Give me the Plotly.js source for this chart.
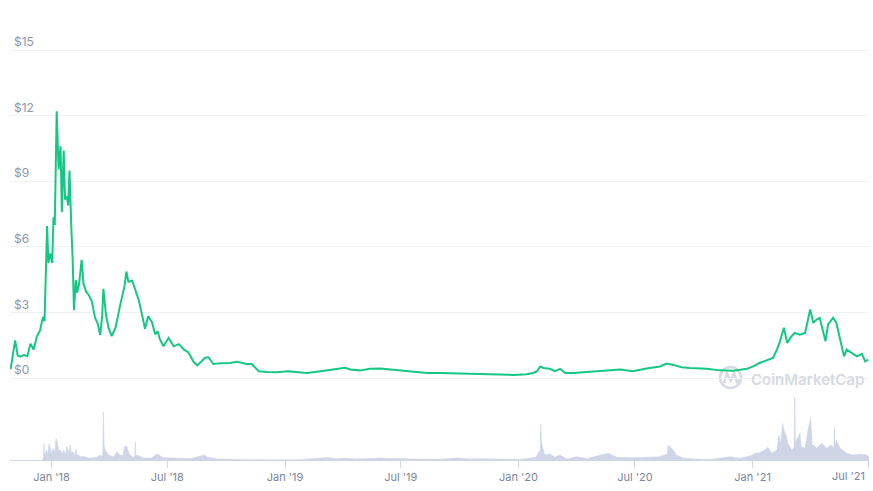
<!DOCTYPE html>
<html>
<head>
<meta charset="utf-8">
<script src="https://cdn.plot.ly/plotly-3.0.1.min.js"></script>
<style>html,body{margin:0;padding:0;background:#fff;}#chart{width:873px;height:491px;}</style>
</head>
<body>
<div id="chart"></div>
<script>
// ---- Price (USD) ----
const priceDates = [
'2017-10-29','2017-11-05','2017-11-09','2017-11-13','2017-11-19','2017-11-24','2017-11-29','2017-12-04','2017-12-09','2017-12-14',
'2017-12-17','2017-12-19','2017-12-21','2017-12-25','2017-12-27','2017-12-30','2018-01-02','2018-01-04','2018-01-06','2018-01-09',
'2018-01-12','2018-01-15','2018-01-17','2018-01-20','2018-01-22','2018-01-25','2018-01-27','2018-01-29','2018-02-01','2018-02-03',
'2018-02-05','2018-02-08','2018-02-10','2018-02-13','2018-02-17','2018-02-20','2018-02-24','2018-02-28','2018-03-05','2018-03-10',
'2018-03-14','2018-03-18','2018-03-21','2018-03-23','2018-03-27','2018-03-31','2018-04-05','2018-04-11','2018-04-18','2018-04-25',
'2018-04-28','2018-05-01','2018-05-07','2018-05-12','2018-05-17','2018-05-23','2018-05-27','2018-06-01','2018-06-07','2018-06-12',
'2018-06-16','2018-06-19','2018-06-25','2018-07-03','2018-07-11','2018-07-19','2018-07-27','2018-08-03','2018-08-11','2018-08-17',
'2018-08-24','2018-08-29','2018-09-03','2018-09-11','2018-09-22','2018-10-07','2018-10-18','2018-11-02','2018-11-10','2018-11-16',
'2018-11-21','2018-12-04','2018-12-19','2019-01-06','2019-01-24','2019-02-04','2019-02-20','2019-03-08','2019-03-23','2019-04-05',
'2019-04-13','2019-04-28','2019-05-14','2019-05-30','2019-06-15','2019-06-30','2019-07-16','2019-08-11','2019-08-31','2019-09-21',
'2019-10-12','2019-11-07','2019-12-03','2019-12-24','2020-01-14','2020-01-24','2020-01-30','2020-02-04','2020-02-09','2020-02-19',
'2020-02-27','2020-03-06','2020-03-14','2020-03-27','2020-04-17','2020-05-13','2020-06-08','2020-06-28','2020-07-19','2020-08-09',
'2020-08-20','2020-08-30','2020-09-12','2020-09-25','2020-10-21','2020-11-11','2020-12-02','2020-12-23','2021-01-02','2021-01-12',
'2021-01-23','2021-02-02','2021-02-08','2021-02-12','2021-02-19','2021-02-24','2021-03-03','2021-03-08','2021-03-16','2021-03-24',
'2021-03-27','2021-04-01','2021-04-06','2021-04-11','2021-04-16','2021-04-25','2021-04-29','2021-05-07','2021-05-12','2021-05-20',
'2021-05-24','2021-05-28','2021-06-05','2021-06-13','2021-06-21','2021-06-26','2021-07-01'
];
const priceUSD = [
0.41,1.72,1.03,0.98,1.05,1.00,1.57,1.30,1.90,2.18,
2.60,2.80,2.60,6.95,5.26,5.70,5.26,7.35,7.00,12.2,
9.54,10.6,7.58,10.4,8.16,8.30,7.88,9.49,6.78,5.40,
3.10,4.48,3.90,4.30,5.40,4.30,3.95,3.80,3.50,2.75,
2.50,1.97,2.80,4.08,2.90,2.30,1.92,2.30,3.30,4.20,
4.87,4.40,4.45,4.04,3.60,2.82,2.25,2.82,2.55,2.00,
2.14,1.80,1.45,1.83,1.45,1.55,1.30,1.17,0.74,0.58,
0.76,0.93,0.95,0.64,0.68,0.69,0.74,0.64,0.64,0.45,
0.31,0.28,0.26,0.31,0.26,0.23,0.29,0.35,0.39,0.47,
0.39,0.35,0.42,0.44,0.39,0.34,0.31,0.23,0.23,0.21,
0.19,0.18,0.17,0.14,0.17,0.23,0.31,0.53,0.46,0.42,
0.31,0.42,0.23,0.23,0.28,0.35,0.39,0.31,0.44,0.53,
0.66,0.60,0.49,0.46,0.42,0.35,0.33,0.42,0.53,0.69,
0.81,0.92,1.30,1.61,2.30,1.61,1.91,2.06,1.98,2.06,
2.45,3.14,2.52,2.67,2.75,1.68,2.45,2.76,2.52,1.53,
0.99,1.30,1.15,0.99,1.10,0.76,0.84
];

// ---- Volume (million USD) ----
const volumeDates = [
'2017-12-18','2017-12-19','2017-12-20','2017-12-21','2017-12-24','2017-12-26','2017-12-28','2017-12-30','2018-01-01','2018-01-03',
'2018-01-06','2018-01-08','2018-01-10','2018-01-12','2018-01-15','2018-01-18','2018-01-20','2018-01-23','2018-01-25','2018-01-28',
'2018-01-30','2018-02-01','2018-02-03','2018-02-06','2018-02-08','2018-02-10','2018-02-12','2018-02-16','2018-02-20','2018-03-03',
'2018-03-13','2018-03-18','2018-03-22','2018-03-23','2018-03-24','2018-03-26','2018-03-31','2018-04-08','2018-04-13','2018-04-18',
'2018-04-23','2018-04-25','2018-04-29','2018-05-02','2018-05-07','2018-05-11','2018-05-12','2018-05-13','2018-05-15','2018-05-25',
'2018-06-06','2018-06-15','2018-06-25','2018-07-21','2018-08-06','2018-08-27','2018-09-03','2018-09-17','2018-10-07','2018-10-18',
'2018-11-23','2019-01-24','2019-02-27','2019-03-09','2019-03-20','2019-04-05','2019-04-24','2019-05-14','2019-05-30','2019-06-15',
'2019-06-30','2019-07-16','2019-08-08','2019-08-31','2019-09-27','2019-10-17','2019-11-02','2019-12-03','2020-01-03','2020-01-28',
'2020-02-01','2020-02-04','2020-02-05','2020-02-06','2020-02-08','2020-02-11','2020-02-19','2020-02-27','2020-03-06','2020-03-16',
'2020-04-01','2020-04-17','2020-05-07','2020-05-20','2020-06-03','2020-06-28','2020-07-24','2020-08-09','2020-08-21','2020-08-22',
'2020-08-27','2020-08-30','2020-09-04','2020-09-15','2020-10-01','2020-10-26','2020-11-27','2020-12-12','2020-12-28','2021-01-05',
'2021-01-12','2021-01-20','2021-01-25','2021-01-31','2021-02-08','2021-02-11','2021-02-14','2021-02-17','2021-02-19','2021-02-23',
'2021-02-25','2021-03-03','2021-03-07','2021-03-08','2021-03-09','2021-03-11','2021-03-16','2021-03-18','2021-03-24','2021-03-29',
'2021-04-02','2021-04-04','2021-04-06','2021-04-11','2021-04-19','2021-04-27','2021-05-03','2021-05-08','2021-05-09','2021-05-10',
'2021-05-12','2021-05-18','2021-05-28','2021-06-07','2021-06-18','2021-06-28','2021-07-02'
];
const volumeM = [
0,40,330,80,200,100,330,200,120,230,
150,430,360,180,200,120,200,110,270,120,
310,120,170,90,210,90,100,60,70,35,
55,100,60,970,300,200,100,65,165,100,
90,280,265,130,65,50,365,80,100,35,
40,120,45,35,25,100,55,20,14,12,
6,6,30,50,24,36,20,30,40,24,
30,20,16,16,40,20,24,12,10,55,
130,200,720,335,235,100,120,55,100,20,
65,25,95,135,55,45,55,65,120,300,
235,200,100,35,20,10,65,35,80,135,
145,200,255,135,200,500,335,735,600,465,
335,200,250,1265,350,400,535,265,235,635,
835,300,300,235,335,235,300,250,655,300,
400,235,135,100,115,100,65
];

// ---- Axis labels ----
const xTickDates = ['2018-01-01','2018-07-01','2019-01-01','2019-07-01','2020-01-01','2020-07-01','2021-01-01','2021-07-01'];
const xTickLabels = ["Jan '18","Jul '18","Jan '19","Jul '19","Jan '20","Jul '20","Jan '21","Jul '21"];
const yTickValues = [0,3,6,9,12,15];
const yTickLabels = ['$0','$3','$6','$9','$12','$15'];
const watermarkText = 'CoinMarketCap';

const W = 873, H = 491;
const px = x => x / W;
const py = y => 1 - y / H;
const fontFam = 'Inter, "Open Sans", sans-serif';
const lastIdx = xTickLabels.length - 1;
// the last tick label sits flush to the right edge (right-aligned at its tick)
const axisTickText = xTickLabels.map((t, i) => i === lastIdx ? '' : t);

const traces = [
  {
    type: 'scatter', mode: 'lines', x: volumeDates, y: volumeM,
    xaxis: 'x', yaxis: 'y', fill: 'tozeroy',
    fillcolor: '#cfd5e7', line: {color: '#cfd5e7', width: 0.6},
    hoverinfo: 'skip'
  },
  {
    type: 'scatter', mode: 'lines', x: priceDates, y: priceUSD,
    xaxis: 'x', yaxis: 'y2',
    line: {color: '#16c784', width: 2}
  }
];

// price axis: $0 gridline at 378px, $15 gridline at 50px (21.87 px per $)
const layout = {
  width: W, height: H,
  margin: {l: 0, r: 0, t: 0, b: 0},
  paper_bgcolor: '#ffffff', plot_bgcolor: 'rgba(0,0,0,0)',
  showlegend: false,
  xaxis: {
    type: 'date', domain: [px(10), px(869)], anchor: 'y',
    range: ['2017-10-28', '2021-07-02'],
    tickmode: 'array', tickvals: xTickDates, ticktext: axisTickText,
    ticks: 'outside', ticklen: 7, tickcolor: '#cfd6e4', tickwidth: 1,
    showline: true, linecolor: '#cfd6e4', linewidth: 1,
    showgrid: false, zeroline: false,
    tickfont: {family: fontFam, size: 11, color: '#7d8699'}
  },
  yaxis: {
    domain: [py(460), py(397)], range: [0, 1265],
    showgrid: false, zeroline: false, showticklabels: false, showline: false, ticks: ''
  },
  yaxis2: {
    domain: [py(382.4), py(17.2)], range: [-0.2, 16.5], anchor: 'x',
    tickmode: 'array', tickvals: yTickValues, ticktext: yTickLabels,
    showgrid: true, gridcolor: '#eff2f5', gridwidth: 1,
    zeroline: false, showline: false, ticks: '',
    ticklabelposition: 'inside', ticklabelshift: -8, ticklabelstandoff: 1,
    tickfont: {family: fontFam, size: 12, color: '#8f96a8'}
  },
  shapes: [
    {type: 'circle', xref: 'paper', yref: 'paper', layer: 'below',
     x0: px(720), x1: px(741), y0: py(388), y1: py(367),
     line: {color: '#d6dae2', width: 2.5}},
    {type: 'path', xref: 'paper', yref: 'paper', layer: 'below',
     path: `M ${px(724)},${py(383)} L ${px(727)},${py(373)} L ${px(730.5)},${py(381)} L ${px(734)},${py(373)} L ${px(737)},${py(382)} L ${px(741)},${py(379)}`,
     line: {color: '#d6dae2', width: 2.5}}
  ],
  annotations: [
    {xref: 'paper', yref: 'paper', x: px(749), y: py(379), xanchor: 'left', yanchor: 'middle',
     text: watermarkText, showarrow: false,
     font: {family: fontFam, size: 15, color: '#d6dae2', weight: 600}},
    {xref: 'x', yref: 'paper', x: xTickDates[lastIdx], y: py(476), xanchor: 'right', yanchor: 'middle',
     xshift: -1, text: xTickLabels[lastIdx], showarrow: false,
     font: {family: fontFam, size: 11, color: '#7d8699'}}
  ]
};

Plotly.newPlot('chart', traces, layout, {staticPlot: true, displayModeBar: false});
</script>
</body>
</html>
